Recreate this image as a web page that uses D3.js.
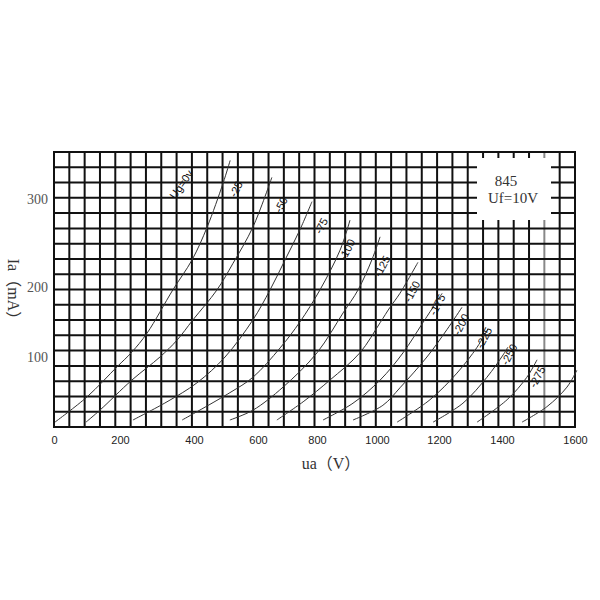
<!DOCTYPE html>
<html>
<head>
<meta charset="utf-8">
<script src="https://cdn.jsdelivr.net/npm/d3@7"></script>
<style>
    body { margin: 0; background: #fff; }
</style>
</head>
<body>
<div id="chart"></div>
<script>
// Grid voltage of each curve (labels drawn on the chart).
var curveLabels = ["Ug=0v", "-25", "-50", "-75", "-100", "-125", "-150", "-175", "-200", "-225", "-250", "-275"];

// Anode voltage (V) points of each curve.
var curveVolts = [
    [3, 100, 191, 232, 273, 343, 395, 441, 491, 513],
    [97, 139, 232, 308, 354, 397, 472, 522, 584, 647],
    [235, 327, 409, 497, 584, 641, 692, 742, 783],
    [368, 512, 584, 675, 742, 810, 877, 910],
    [512, 584, 685, 800, 887, 937, 983, 1010],
    [664, 753, 843, 943, 1010, 1042, 1074, 1132],
    [820, 920, 1010, 1084, 1148, 1210],
    [920, 1019, 1074, 1161, 1225, 1273],
    [1065, 1171, 1257, 1321, 1356],
    [1181, 1276, 1352, 1403, 1416],
    [1321, 1414, 1468, 1496],
    [1455, 1523, 1578, 1605]
];

// Anode current (mA) points of each curve.
var curveAmps = [
    [7, 43, 86, 107, 134, 196, 231, 268, 317, 341],
    [7, 24, 67, 100, 124, 153, 196, 227, 268, 323],
    [10, 36, 63, 100, 153, 196, 231, 265, 297],
    [10, 49, 71, 113, 150, 196, 242, 276],
    [10, 24, 57, 106, 163, 196, 231, 257],
    [10, 36, 67, 106, 149, 171, 191, 228],
    [10, 34, 67, 106, 149, 191],
    [10, 31, 56, 100, 139, 171],
    [7, 39, 77, 114, 141],
    [7, 34, 71, 103, 114],
    [7, 39, 71, 96],
    [7, 29, 57, 81]
];

// Where each curve label sits: [V, mA].
var labelAt = [
    [368, 315], [534, 310], [681, 293], [817, 269], [903, 242], [1019, 223],
    [1116, 193], [1197, 174], [1273, 146], [1346, 127], [1422, 103], [1499, 71]
];

// Axis ticks.
var xTicks = [0, 200, 400, 600, 800, 1000, 1200, 1400, 1600];
var yTicks = [100, 200, 300];

// Legend text.
var legendLines = ["845", "Uf=10V"];

var width = 600, height = 600;
var plot = {left: 54, right: 575, top: 152, bottom: 427};
var gridCols = 34, gridRows = 18;

var svg = d3.select("#chart").append("svg")
    .attr("width", width)
    .attr("height", height);

svg.append("rect")
    .attr("width", width)
    .attr("height", height)
    .attr("fill", "#fff");

// The scanned sheet is not quite linear, so the scales are piecewise.
var x = d3.scaleLinear()
    .domain(xTicks)
    .range([plot.left, 120, 194, 258, 317, 377, 439, 502, plot.right]);
var y = d3.scaleLinear()
    .domain([0, 100, 200, 300, 350])
    .range([plot.bottom, 357, 287, 199, plot.top]);

// Grid paper cells.
var gx = d3.scaleLinear().domain([0, gridCols]).range([plot.left, plot.right]);
var gy = d3.scaleLinear().domain([0, gridRows]).range([plot.top, plot.bottom]);

var grid = svg.append("g").attr("class", "grid");
grid.selectAll("line.v")
    .data(d3.range(gridCols + 1))
    .enter().append("line")
    .attr("class", "v")
    .attr("x1", function (d) { return gx(d); })
    .attr("x2", function (d) { return gx(d); })
    .attr("y1", plot.top)
    .attr("y2", plot.bottom)
    .attr("stroke", function (d) { return d === 32 ? "#888" : "#111"; })
    .attr("stroke-width", 2);
grid.selectAll("line.h")
    .data(d3.range(gridRows + 1))
    .enter().append("line")
    .attr("class", "h")
    .attr("x1", plot.left - 1)
    .attr("x2", plot.right + 1)
    .attr("y1", function (d) { return gy(d); })
    .attr("y2", function (d) { return gy(d); })
    .attr("stroke", "#111")
    .attr("stroke-width", 2);

// Legend box blanks out part of the grid.
svg.append("rect")
    .attr("x", 477)
    .attr("y", 158)
    .attr("width", 74)
    .attr("height", 62)
    .attr("fill", "#fff");
svg.append("g")
    .selectAll("text")
    .data(legendLines)
    .enter().append("text")
    .attr("x", function (d, i) { return i === 0 ? 506 : 513; })
    .attr("y", function (d, i) { return 183 + i * 17; })
    .attr("text-anchor", "middle")
    .attr("dominant-baseline", "middle")
    .attr("font-family", "'Liberation Serif', 'DejaVu Serif', serif")
    .attr("font-size", 15)
    .attr("fill", "#333")
    .text(function (d) { return d; });

// Curves.
var line = d3.line()
    .x(function (d) { return x(d[0]); })
    .y(function (d) { return y(d[1]); })
    .curve(d3.curveCatmullRom);

svg.append("g")
    .attr("class", "curves")
    .selectAll("path")
    .data(curveVolts.map(function (v, i) { return d3.zip(v, curveAmps[i]); }))
    .enter().append("path")
    .attr("d", line)
    .attr("fill", "none")
    .attr("stroke", "#333")
    .attr("stroke-width", 1);

// Curve labels, turned along the curves.
svg.append("g")
    .attr("class", "curve-labels")
    .selectAll("text")
    .data(curveLabels)
    .enter().append("text")
    .attr("transform", function (d, i) {
        return "translate(" + x(labelAt[i][0]) + "," + y(labelAt[i][1]) + ") rotate(" + (i === 0 ? -55 : -62) + ")";
    })
    .attr("text-anchor", "middle")
    .attr("dominant-baseline", "middle")
    .attr("font-family", "'Liberation Sans', Arial, sans-serif")
    .attr("font-size", 11)
    .attr("fill", "#111")
    .text(function (d) { return d; });

// X axis tick labels.
var xAxis = d3.axisBottom(x).tickValues(xTicks).tickFormat(d3.format("d")).tickSize(0).tickPadding(9);
var xg = svg.append("g")
    .attr("transform", "translate(0," + plot.bottom + ")")
    .call(xAxis);
xg.select(".domain").remove();
xg.selectAll("text")
    .attr("font-family", "'Liberation Sans', Arial, sans-serif")
    .attr("font-size", 11)
    .attr("fill", "#222");

// Y axis tick labels.
var yAxis = d3.axisLeft(y).tickValues(yTicks).tickSize(0).tickPadding(6);
var yg = svg.append("g")
    .attr("transform", "translate(" + plot.left + ",0)")
    .call(yAxis);
yg.select(".domain").remove();
yg.selectAll("text")
    .attr("font-family", "'Liberation Serif', 'DejaVu Serif', serif")
    .attr("font-size", 14)
    .attr("fill", "#555");

// Axis titles.
svg.append("text")
    .attr("x", 331)
    .attr("y", 465)
    .attr("text-anchor", "middle")
    .attr("dominant-baseline", "middle")
    .attr("font-family", "'Liberation Serif', 'Noto Sans CJK SC', serif")
    .attr("font-size", 16)
    .attr("fill", "#333")
    .text("ua（V）");

svg.append("text")
    .attr("transform", "translate(12,293) rotate(90)")
    .attr("text-anchor", "middle")
    .attr("dominant-baseline", "middle")
    .attr("font-family", "'Liberation Serif', 'Noto Sans CJK SC', serif")
    .attr("font-size", 16)
    .attr("fill", "#333")
    .text("Ia（mA）");
</script>
</body>
</html>
